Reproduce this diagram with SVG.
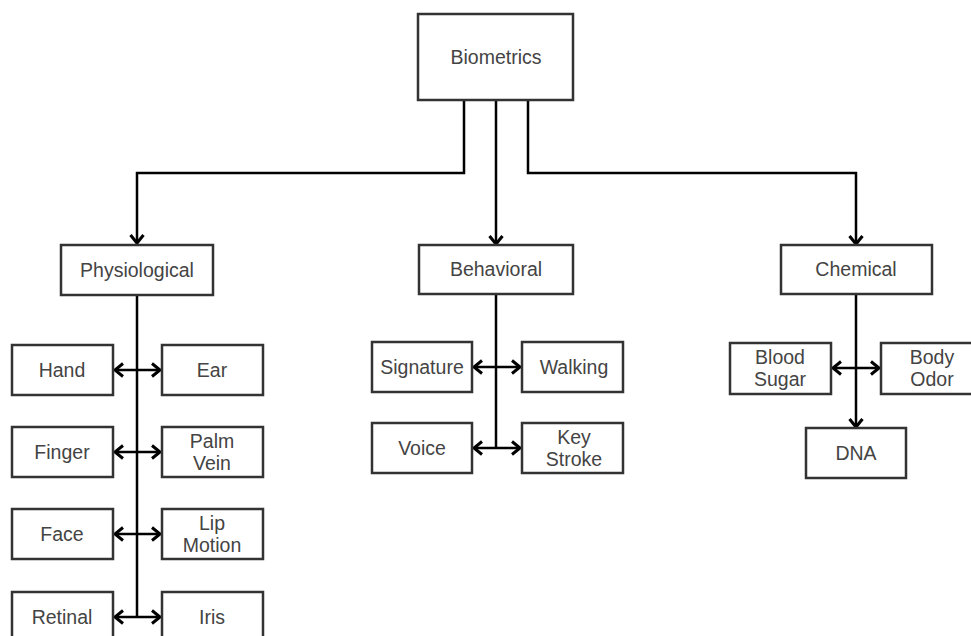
<svg xmlns="http://www.w3.org/2000/svg" width="971" height="636" viewBox="0 0 971 636">
<style>
.box{fill:#fff;stroke:#333;stroke-width:2.5}
.lbl{font-family:"Liberation Sans",Arial,sans-serif;font-size:19.5px;fill:#444;text-anchor:middle;dominant-baseline:central}
.c{fill:none;stroke:#000;stroke-width:2.5}
</style>
<defs>
<marker id="ah" markerUnits="userSpaceOnUse" markerWidth="20" markerHeight="20" refX="10" refY="10" orient="auto-start-reverse" overflow="visible">
<path d="M2 3.5 L10 10 L2 16.5" fill="none" stroke="#000" stroke-width="3"/>
</marker>
</defs>
<rect width="971" height="636" fill="#fff"/>
<g id="connectors">
<path class="c" d="M464 100 V173 H137 V243" marker-end="url(#ah)"/>
<path class="c" d="M496 100 V244" marker-end="url(#ah)"/>
<path class="c" d="M528 100 V173 H856 V244" marker-end="url(#ah)"/>
<path class="c" d="M137 295 V617"/>
<path class="c" d="M115 370 H160" marker-start="url(#ah)" marker-end="url(#ah)"/>
<path class="c" d="M115 452 H160" marker-start="url(#ah)" marker-end="url(#ah)"/>
<path class="c" d="M115 534 H160" marker-start="url(#ah)" marker-end="url(#ah)"/>
<path class="c" d="M115 617 H160" marker-start="url(#ah)" marker-end="url(#ah)"/>
<path class="c" d="M496 294 V448"/>
<path class="c" d="M474 367 H520" marker-start="url(#ah)" marker-end="url(#ah)"/>
<path class="c" d="M474 448 H520" marker-start="url(#ah)" marker-end="url(#ah)"/>
<path class="c" d="M856 294 V427" marker-end="url(#ah)"/>
<path class="c" d="M833 368 H879" marker-start="url(#ah)" marker-end="url(#ah)"/>
</g>
<g id="biometrics"><rect class="box" x="418" y="14" width="155" height="86"/><text class="lbl" x="496" y="57">Biometrics</text></g>
<g id="physiological"><rect class="box" x="61" y="245" width="152" height="50"/><text class="lbl" x="137" y="270">Physiological</text></g>
<g id="behavioral"><rect class="box" x="419" y="245" width="154" height="49"/><text class="lbl" x="496" y="269">Behavioral</text></g>
<g id="chemical"><rect class="box" x="781" y="245" width="151" height="49"/><text class="lbl" x="856" y="269">Chemical</text></g>
<g id="hand"><rect class="box" x="12" y="345" width="101" height="50"/><text class="lbl" x="62" y="370">Hand</text></g>
<g id="ear"><rect class="box" x="162" y="345" width="101" height="50"/><text class="lbl" x="212" y="370">Ear</text></g>
<g id="finger"><rect class="box" x="12" y="427" width="101" height="50"/><text class="lbl" x="62" y="452">Finger</text></g>
<g id="palmvein"><rect class="box" x="162" y="427" width="101" height="50"/><text class="lbl" x="212" y="441">Palm</text><text class="lbl" x="212" y="463">Vein</text></g>
<g id="face"><rect class="box" x="12" y="509" width="101" height="50"/><text class="lbl" x="62" y="534">Face</text></g>
<g id="lipmotion"><rect class="box" x="162" y="509" width="101" height="50"/><text class="lbl" x="212" y="523">Lip</text><text class="lbl" x="212" y="545">Motion</text></g>
<g id="retinal"><rect class="box" x="12" y="592" width="101" height="50"/><text class="lbl" x="62" y="617">Retinal</text></g>
<g id="iris"><rect class="box" x="162" y="592" width="101" height="50"/><text class="lbl" x="212" y="617">Iris</text></g>
<g id="signature"><rect class="box" x="372" y="342" width="100" height="50"/><text class="lbl" x="422" y="367">Signature</text></g>
<g id="walking"><rect class="box" x="522" y="342" width="101" height="50"/><text class="lbl" x="574" y="367">Walking</text></g>
<g id="voice"><rect class="box" x="372" y="423" width="100" height="50"/><text class="lbl" x="422" y="448">Voice</text></g>
<g id="keystroke"><rect class="box" x="522" y="423" width="101" height="50"/><text class="lbl" x="574" y="437">Key</text><text class="lbl" x="574" y="459">Stroke</text></g>
<g id="bloodsugar"><rect class="box" x="730" y="343" width="101" height="51"/><text class="lbl" x="780" y="357">Blood</text><text class="lbl" x="780" y="379">Sugar</text></g>
<g id="bodyodor"><rect class="box" x="881" y="343" width="100" height="51"/><text class="lbl" x="932" y="357">Body</text><text class="lbl" x="932" y="379">Odor</text></g>
<g id="dna"><rect class="box" x="806" y="428" width="100" height="50"/><text class="lbl" x="856" y="453">DNA</text></g>
</svg>
